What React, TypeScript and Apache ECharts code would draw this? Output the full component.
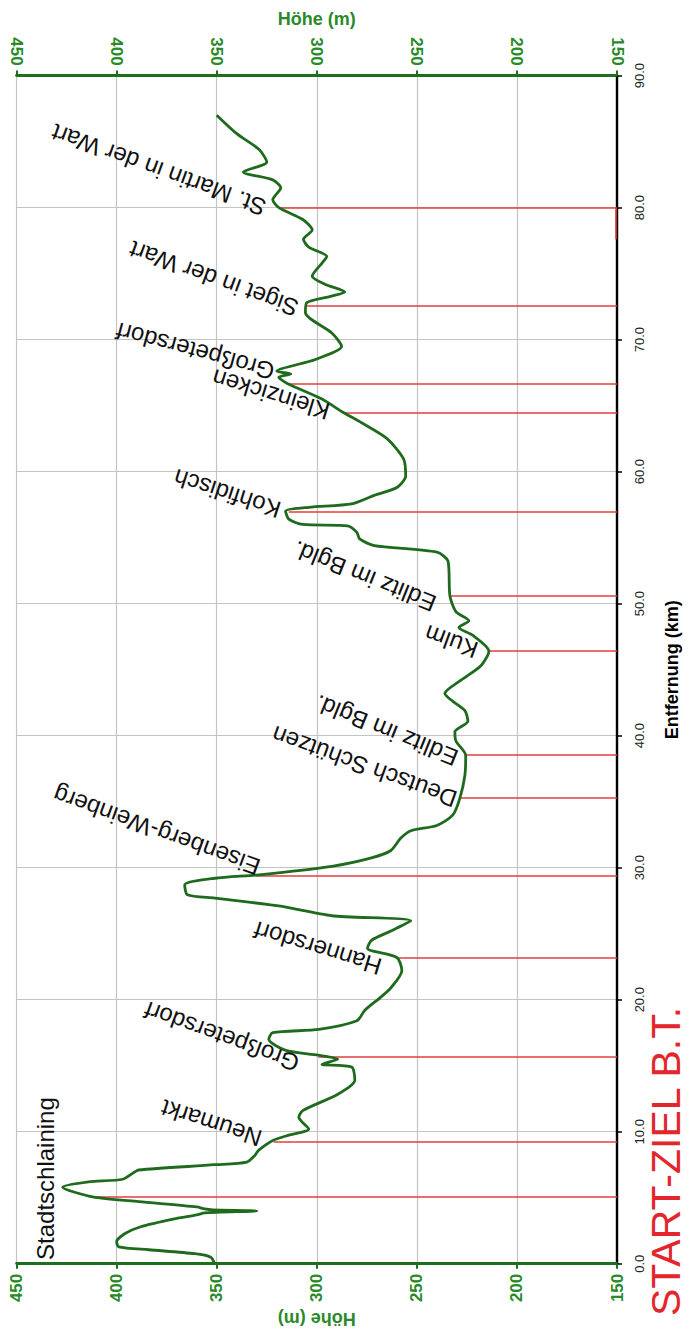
import React, { useEffect, useRef } from "react";
import * as echarts from "echarts";

// ---- data ----
const profileKm = [
  0, 0.5, 0.76, 1.06, 1.28, 1.66, 2.27, 2.8, 3.4, 3.7, 3.85, 4.0, 4.08, 4.15, 4.3, 4.7, 5.06, 5.8, 6.2, 6.4,
  6.95, 7.1, 7.5, 7.7, 8.2, 8.6, 9.37, 9.74, 10.2, 11.1, 11.6, 12.84, 13.9, 14.9, 15.1, 15.5, 15.8, 16.16, 17.0,
  17.5, 17.75, 18.4, 19.2, 20.2, 20.9, 22.2, 23.2, 23.9, 24.5, 25.2, 25.98, 26.36, 27.1, 27.7, 27.95, 28.7, 29.2,
  29.46, 30.1, 30.74, 31.3, 32.25, 32.8, 33.2, 34.0, 35.27, 37.0, 38.5, 39.6, 40.3, 41.1, 41.9, 42.6, 43.2, 44.2,
  45.3, 46.4, 47.6, 48.2, 48.7, 49.4, 50.6, 53.2, 53.9, 54.4, 54.9, 55.4, 55.9, 56.0, 56.4, 57.0, 57.3, 57.55,
  58.2, 58.8, 59.67, 60.95, 62.5, 63.7, 64.5, 65.5, 66.7, 67.15, 67.4, 67.6, 68.5, 69.5, 70.5, 72.05, 72.8, 73.3,
  73.6, 74.2, 74.8, 75.8, 76.3, 77.0, 77.6, 78.3, 79.1, 80.0, 80.6, 81.5, 82.1, 82.7, 83.46, 84.4, 85.6, 87.0,
];
const profileHeight = [
  351, 353, 361, 384, 399, 400, 396, 388, 371, 360, 356, 330, 352, 356, 360, 389, 412, 427, 414, 397,
  391, 389, 351, 335, 331, 329, 321.5, 314, 304, 309, 307, 289.5, 281, 282.6, 297.4, 289.5, 299.3, 315.5, 324,
  322, 299, 280, 276, 268, 263, 257.5, 260, 274.7, 272.7, 263, 253, 292.5, 319, 351, 364.7, 366, 351,
  329, 292.5, 272.7, 263, 258, 253, 240, 232, 228.5, 226, 225.6, 230.5, 231, 224.5, 226, 232, 236, 228,
  218, 214, 222, 229, 224, 230.5, 233.5, 234.4, 240, 271.3, 278.6, 280, 284.6, 307, 314, 315.6, 304, 282.6,
  271.3, 260, 255.6, 256.6, 264.9, 277.6, 287, 297.4, 315, 319, 313, 320, 300.7, 287.6, 292.5, 305.7, 305, 292.5,
  286, 296, 302.3, 297.4, 295, 304, 306.7, 302.3, 307, 319, 322, 318, 322, 336.7, 325, 328.8, 340, 350,
];

const townNames = [
  "Stadtschlaining", "Neumarkt", "Großpetersdorf", "Hannersdorf", "Eisenberg-Weinberg", "Deutsch Schützen",
  "Edlitz im Bgld.", "Kulm", "Edlitz im Bgld.", "Kohfidisch", "Kleinzicken", "Großpetersdorf",
  "Siget in der Wart", "St. Martin in der Wart",
];
const townKm = [5.11, 9.27, 15.69, 23.19, 29.36, 35.27, 38.52, 46.4, 50.58, 56.95, 64.48, 66.69, 72.53, 80.0];
const townHeight = [412.4, 321.5, 299.3, 260, 330.3, 228.5, 225.6, 214, 233.5, 314, 287, 315, 305.7, 319];

const extraMarkKm = [80.0, 77.6];
const extraMarkHeight = 150.8;

const heightTitle = "Höhe (m)";
const distanceTitle = "Entfernung (km)";
const startLabel = "START-ZIEL B.T.";

// ---- layout / style (kept apart from the data) ----
const labelLayout = [
  { rot: 90, dx: -46, dy: 63.7 },
  { rot: 162, dx: -13, dy: -2 },
  { rot: 160, dx: -20, dy: 8 },
  { rot: 163, dx: -16, dy: 10 },
  { rot: 160, dx: 3, dy: -8 },
  { rot: 160, dx: -4, dy: 2 },
  { rot: 158, dx: -9, dy: 4 },
  { rot: 160, dx: -12, dy: 0 },
  { rot: 158, dx: -15, dy: 9 },
  { rot: 162, dx: -9, dy: -1 },
  { rot: 163, dx: -14, dy: 0 },
  { rot: 165, dx: -13, dy: -11 },
  { rot: 160, dx: -8, dy: 3 },
  { rot: 160, dx: -14, dy: 1 },
];

const FONT = '"Liberation Sans", Arial, Helvetica, sans-serif';
const AXIS_GREEN = "#1d6f1d";
const LABEL_GREEN = "#2a8a2a";
const LINE_GREEN = "#1e6b1e";
const RED = "#e53e3e";
const GRID_GRAY = "#c4c4c4";

export default function App() {
  const ref = useRef<HTMLDivElement>(null);

  useEffect(() => {
    const chart = echarts.init(ref.current!, null, { renderer: "svg" });

    const heightAxisBase = (pos: "top" | "bottom") => ({
      type: "value",
      position: pos,
      min: 150,
      max: 450,
      interval: 50,
      inverse: true,
      axisLine: { show: true, onZero: false, lineStyle: { color: AXIS_GREEN, width: 2.8 } },
      axisTick: { show: true, inside: false, length: 5, lineStyle: { color: AXIS_GREEN, width: 2 } },
      axisLabel: {
        rotate: 90,
        margin: 10,
        color: LABEL_GREEN,
        fontSize: 17,
        fontWeight: "bold",
        fontFamily: FONT,
      },
      name: heightTitle,
      nameLocation: "middle",
      nameTextStyle: { color: LABEL_GREEN, fontSize: 18, fontWeight: "bold", fontFamily: FONT },
    });

    const option: any = {
      animation: false,
      backgroundColor: "#ffffff",
      grid: { left: 16.6, right: 62.3, top: 75.6, bottom: 66, containLabel: false },
      xAxis: [
        {
          ...heightAxisBase("top"),
          nameGap: 48,
          splitLine: { show: true, lineStyle: { color: GRID_GRAY, width: 1.2 } },
        },
        {
          ...heightAxisBase("bottom"),
          nameGap: 44,
          nameRotate: 180,
          splitLine: { show: false },
        },
      ],
      yAxis: [
        {
          type: "value",
          position: "right",
          min: 0,
          max: 90,
          interval: 10,
          axisLine: { show: true, onZero: false, lineStyle: { color: "#000", width: 2.4 } },
          axisTick: { show: true, inside: false, length: 5, lineStyle: { color: "#000", width: 1.5 } },
          axisLabel: {
            rotate: 90,
            margin: 16,
            color: "#222",
            fontSize: 13,
            fontFamily: FONT,
            formatter: (v: number) => v.toFixed(1),
          },
          splitLine: { show: true, lineStyle: { color: GRID_GRAY, width: 1.2 } },
          name: distanceTitle,
          nameLocation: "middle",
          nameRotate: 90,
          nameGap: 46,
          nameTextStyle: { color: "#000", fontSize: 18, fontWeight: "bold", fontFamily: FONT },
        },
      ],
      series: [
        {
          type: "lines",
          coordinateSystem: "cartesian2d",
          xAxisIndex: 0,
          yAxisIndex: 0,
          z: 2,
          silent: true,
          lineStyle: { color: RED, width: 1.6, opacity: 1 },
          data: [
            ...townKm.map((k, i) => ({ coords: [[townHeight[i], k], [150, k]] })),
            { coords: [[extraMarkHeight, extraMarkKm[0]], [extraMarkHeight, extraMarkKm[1]]] },
          ],
        },
        {
          type: "line",
          xAxisIndex: 0,
          yAxisIndex: 0,
          z: 3,
          showSymbol: false,
          symbol: "none",
          smooth: 0.25,
          silent: true,
          lineStyle: { color: LINE_GREEN, width: 2.8 },
          data: profileKm.map((k, i) => [profileHeight[i], k]),
        },
      ],
    };

    chart.setOption(option);

    const graphics: any[] = townNames.map((name, i) => {
      const p = chart.convertToPixel({ xAxisIndex: 0, yAxisIndex: 0 }, [townHeight[i], townKm[i]]) as number[];
      const L = labelLayout[i];
      return {
        type: "text",
        x: p[0] + L.dx,
        y: p[1] + L.dy,
        rotation: (L.rot * Math.PI) / 180,
        z: 20,
        silent: true,
        style: {
          text: name,
          fill: "#111",
          fontSize: 24,
          fontFamily: FONT,
          textAlign: "left",
          textVerticalAlign: "middle",
          align: "left",
          verticalAlign: "middle",
        },
      };
    });
    graphics.push({
      type: "text",
      x: 666,
      y: 1316,
      rotation: Math.PI / 2,
      z: 30,
      silent: true,
      style: {
        text: startLabel,
        fill: "#e3262b",
        fontSize: 41,
        lineHeight: 40,
        fontFamily: FONT,
        textAlign: "left",
        textVerticalAlign: "middle",
        align: "left",
        verticalAlign: "middle",
      },
    });
    chart.setOption({ graphic: graphics });

    return () => chart.dispose();
  }, []);

  return (
    <div
      ref={ref}
      style={{ position: "fixed", left: 0, top: 0, width: 689, height: 1333, background: "#fff" }}
    />
  );
}
